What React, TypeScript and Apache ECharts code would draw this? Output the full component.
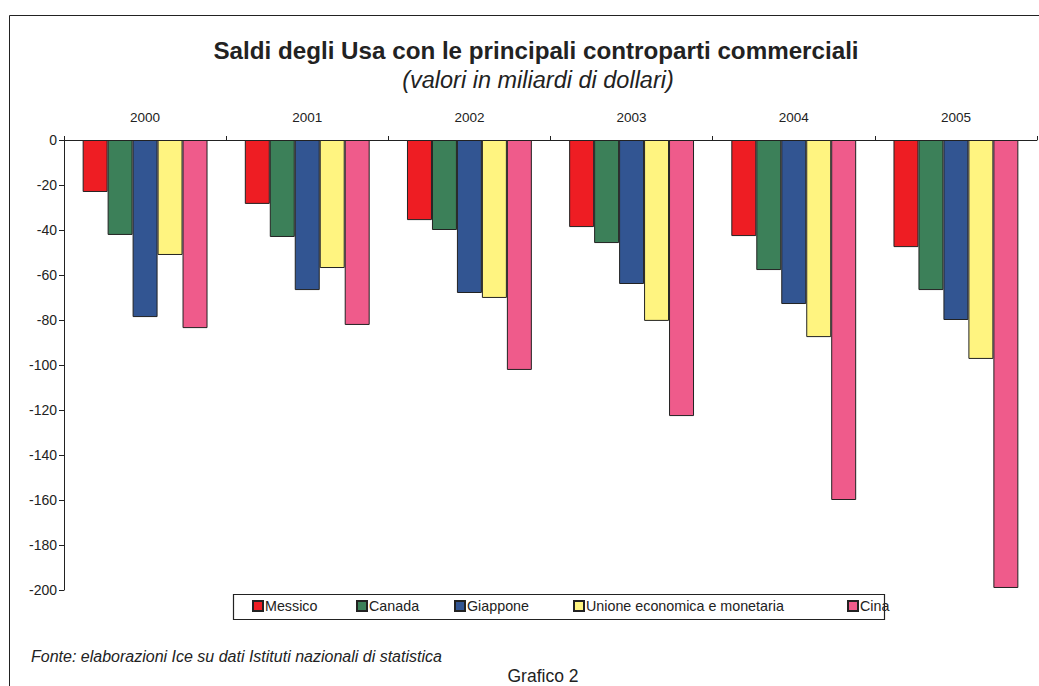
import React, { useEffect, useRef } from "react";
import * as echarts from "echarts";

const years = ["2000", "2001", "2002", "2003", "2004", "2005"];
const seriesNames = ["Messico", "Canada", "Giappone", "Unione economica e monetaria", "Cina"];
const messico = [-23.1, -28.4, -35.6, -38.7, -42.7, -47.6];
const canada = [-42.2, -43.1, -40.0, -45.8, -57.8, -66.7];
const giappone = [-78.7, -66.7, -68.0, -64.0, -72.9, -80.0];
const uem = [-51.1, -56.9, -70.2, -80.4, -87.6, -97.3];
const cina = [-83.6, -82.2, -102.2, -122.7, -160.0, -199.1];
const colors = ["#EE1D23", "#3C8059", "#325592", "#FFF480", "#EF5B8B"];
const legendLefts = [252, 356, 454, 573, 847];

export default function App() {
  const ref = useRef<HTMLDivElement>(null);
  useEffect(() => {
    const chart = echarts.init(ref.current!, undefined, { renderer: "svg" });
    const dataArr = [messico, canada, giappone, uem, cina];
    const font = "'Liberation Sans', Arial, sans-serif";
    chart.setOption({
      animation: false,
      backgroundColor: "#fff",
      textStyle: { fontFamily: font },
      title: [
        {
          text: "Saldi degli Usa con le principali controparti commerciali",
          left: 531,
          top: 33,
          textAlign: "center",
          textStyle: { fontSize: 24.2, fontWeight: "bold", color: "#222", fontFamily: font },
        },
        {
          text: "(valori in miliardi di dollari)",
          left: 533,
          top: 63,
          textAlign: "center",
          textStyle: { fontSize: 23.5, fontStyle: "italic", fontWeight: "normal", color: "#222", fontFamily: font },
        },
        {
          text: "Fonte: elaborazioni Ice su dati Istituti nazionali di statistica",
          left: 26,
          top: 643,
          textStyle: { fontSize: 16, fontStyle: "italic", fontWeight: "normal", color: "#222", fontFamily: font },
        },
        {
          text: "Grafico 2",
          left: 538,
          top: 662,
          textAlign: "center",
          textStyle: { fontSize: 17.5, fontWeight: "normal", color: "#222", fontFamily: font },
        },
      ],
      legend: seriesNames.map((n, i) => ({
        data: [n],
        left: legendLefts[i],
        top: 599,
        icon: "rect",
        itemWidth: 10,
        itemHeight: 10,
        itemGap: 0,
        padding: 0,
        textStyle: { fontSize: 14.3, color: "#222", fontFamily: font, padding: [0, 0, 0, -3] },
      })),
      graphic: [
        {
          type: "rect",
          shape: { x: 9.5, y: 15.5, width: 1040, height: 700 },
          style: { fill: "none", stroke: "#222", lineWidth: 1 },
          silent: true,
        },
        {
          type: "rect",
          shape: { x: 233.5, y: 594.5, width: 651, height: 25 },
          style: { fill: "none", stroke: "#222", lineWidth: 1.2 },
          silent: true,
        },
      ],
      grid: { left: 64, right: 2, top: 140, bottom: 96 },
      xAxis: {
        type: "category",
        position: "top",
        data: years,
        axisLine: { lineStyle: { color: "#222", width: 1 } },
        axisTick: { show: true, length: 4, lineStyle: { color: "#222" } },
        axisLabel: { fontSize: 13.5, color: "#222", margin: 16, fontFamily: font },
      },
      yAxis: {
        type: "value",
        min: -200,
        max: 0,
        interval: 20,
        axisLine: { show: true, lineStyle: { color: "#222", width: 1 } },
        axisTick: { show: true, length: 5, lineStyle: { color: "#222" } },
        axisLabel: { fontSize: 14, color: "#222", margin: 7, fontFamily: font },
        splitLine: { show: false },
      },
      series: seriesNames.map((n, i) => ({
        name: n,
        type: "bar",
        data: dataArr[i],
        barGap: "0%",
        barCategoryGap: "23%",
        itemStyle: { color: colors[i], borderColor: "#222", borderWidth: 1 },
      })),
    });
    return () => chart.dispose();
  }, []);
  return (
    <div
      ref={ref}
      style={{ position: "fixed", left: 0, top: 0, width: 1039, height: 686 }}
    />
  );
}
